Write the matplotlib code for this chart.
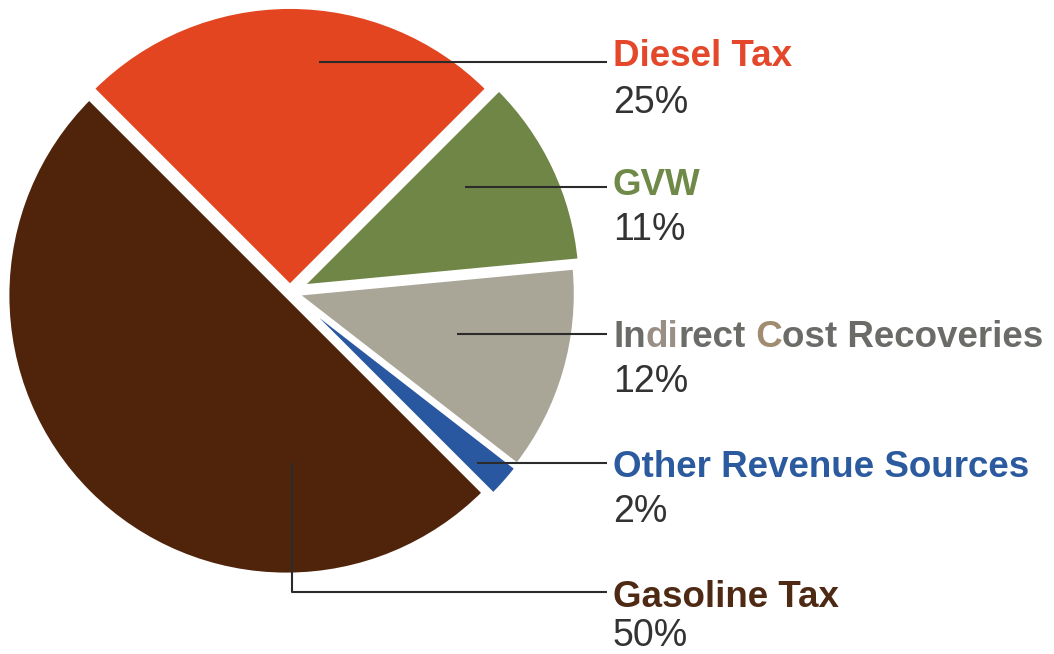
import matplotlib
matplotlib.use("Agg")
import matplotlib.pyplot as plt

# Revenue sources, in the order they are drawn round the pie
sources = ["Gasoline Tax", "Other Revenue Sources", "Indirect Cost Recoveries", "GVW", "Diesel Tax"]
shares = [50, 2, 12, 11, 25]
pct_labels = ["50%", "2%", "12%", "11%", "25%"]

wedge_colors = ["#4f240b", "#2a58a0", "#a9a597", "#708646", "#e2451f"]
name_colors = ["#4e2a14", "#2c5a9e", "#6b6b68", "#6f8a48", "#e4472a"]
# pie() offsets wedges by explode in data units (pixels here)
explode = [5, 8, 7, 13, 6]

W, H = 1054, 654
fig = plt.figure(figsize=(W / 100, H / 100), dpi=100, facecolor="white")
ax = fig.add_axes([0, 0, 1, 1])

# axes work in image pixels with y pointing down, so the pie is drawn clockwise
# in data space to come out counter-clockwise on screen
ax.pie(shares, colors=wedge_colors, explode=explode, startangle=-135,
       counterclock=False, center=(290, 292), radius=279,
       wedgeprops=dict(edgecolor="white", linewidth=2.8))
ax.set_xlim(0, W)
ax.set_ylim(H, 0)
ax.set_aspect("equal")
ax.axis("off")

# leader lines: (start x, start y) inside the wedge, line ends at x=607
anchors = [(292, 463), (477, 463), (457, 334), (465, 187), (319, 62)]
line_y = [592, 463, 334, 187, 62]
name_base = [607, 477, 347, 195, 66]
pct_base = [646, 522, 392, 240, 113]
x_end = 607
x_text = 613
line_kw = dict(color="#2b2b2b", lw=1.5, solid_capstyle="butt")

for i, name in enumerate(sources):
    ax0, ay0 = anchors[i]
    if ay0 != line_y[i]:
        ax.plot([ax0, ax0, x_end], [ay0, line_y[i], line_y[i]], **line_kw)
    else:
        ax.plot([ax0, x_end], [ay0, ay0], **line_kw)

    if name == "Indirect Cost Recoveries":
        # the original has a couple of letters printed in a tan tint
        pieces = [("In", name_colors[i]), ("di", "#9a8f84"), ("rect", name_colors[i]),
                  (" C", "#a08c70"), ("ost Recoveries", name_colors[i])]
        t = ax.text(x_text, name_base[i], pieces[0][0], color=pieces[0][1],
                    fontsize=26.5, fontweight="bold", family="Liberation Sans",
                    va="baseline", ha="left")
        for txt, col in pieces[1:]:
            t = ax.annotate(txt, xy=(1, 0), xycoords=t, va="bottom", ha="left",
                            color=col, fontsize=26.5, fontweight="bold",
                            family="Liberation Sans")
    else:
        ax.text(x_text, name_base[i], name, color=name_colors[i], fontsize=26.5,
                fontweight="bold", family="Liberation Sans", va="baseline", ha="left")

    ax.text(x_text, pct_base[i], pct_labels[i], color="#333333", fontsize=27,
            family="Liberation Sans", va="baseline", ha="left")

fig.savefig("out.png", dpi=100, facecolor="white")
